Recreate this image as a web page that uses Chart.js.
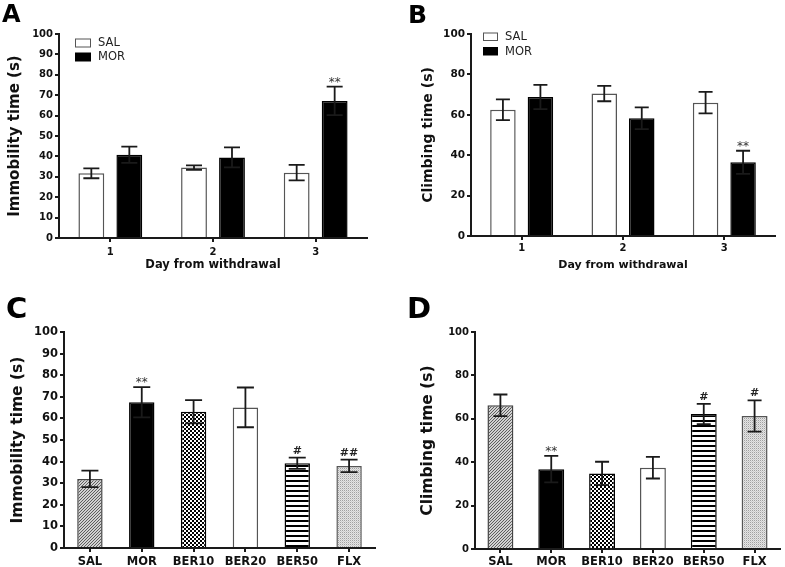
<!DOCTYPE html>
<html><head><meta charset="utf-8">
<script src="https://cdn.jsdelivr.net/npm/chart.js@4/dist/chart.umd.min.js"></script>
<style>
html,body{margin:0;padding:0;background:#fff;}
#wrap{position:relative;width:785px;height:567px;overflow:hidden;background:#fff;}
canvas{position:absolute;}
</style></head><body>
<div id="wrap">
<canvas id="cA" width="390" height="280" style="left:0px;top:0px;width:390px;height:280px"></canvas>
<canvas id="cB" width="395" height="280" style="left:390px;top:0px;width:395px;height:280px"></canvas>
<canvas id="cC" width="390" height="287" style="left:0px;top:280px;width:390px;height:287px"></canvas>
<canvas id="cD" width="395" height="287" style="left:390px;top:280px;width:395px;height:287px"></canvas>
</div>
<script>
// ---------- data ----------
const days = ['1', '2', '3'];
const seriesNames = ['SAL', 'MOR'];
const immSAL = [31.7, 34.5, 32.0];
const immSALerr = [2.4, 1.1, 3.8];
const immMOR = [40.8, 39.5, 67.2];
const immMORerr = [4.0, 4.9, 7.0];
const immMORsig = ['', '', '**'];
const climbSAL = [62.5, 70.5, 66.0];
const climbSALerr = [5.1, 3.8, 5.3];
const climbMOR = [68.8, 58.3, 36.5];
const climbMORerr = [6.0, 5.4, 5.7];
const climbMORsig = ['', '', '**'];
const treatments = ['SAL', 'MOR', 'BER10', 'BER20', 'BER50', 'FLX'];
const immTreat = [32.0, 67.5, 63.1, 65.1, 39.2, 38.0];
const immTreatErr = [3.8, 7.0, 5.4, 9.2, 2.6, 2.9];
const immTreatSig = ['', '**', '', '', '#', '##'];
const climbTreat = [66.2, 36.8, 34.8, 37.5, 62.2, 61.3];
const climbTreatErr = [5.0, 6.1, 5.4, 5.0, 4.7, 7.2];
const climbTreatSig = ['', '**', '', '', '#', '#'];
const immStep = 10;
const climbStep = 20;

const FF = "'DejaVu Sans', Verdana, sans-serif";
const AX = '#1a1a1a';

// ---------- patterns ----------
function tile(w, h, draw) {
  const c = document.createElement('canvas'); c.width = w; c.height = h;
  const x = c.getContext('2d'); draw(x); return c;
}
function patternsFor(canvasId) {
  const ctx = document.getElementById(canvasId).getContext('2d');
  const hatch = tile(3, 3, x => { x.fillStyle = '#d2d2d2'; x.fillRect(0,0,3,3); x.fillStyle = '#5e5e5e'; for (let i=0;i<3;i++) x.fillRect(i,2-i,1,1); });
  const check = tile(4, 4, x => { x.fillStyle = '#fff'; x.fillRect(0,0,4,4); x.fillStyle = '#000'; x.fillRect(0,0,2,2); x.fillRect(2,2,2,2); });
  const stripe = tile(4, 5, x => { x.fillStyle = '#fff'; x.fillRect(0,0,4,5); x.fillStyle = '#000'; x.fillRect(0,0,4,2); });
  const dots = tile(2, 2, x => { x.fillStyle = '#e4e4e4'; x.fillRect(0,0,2,2); x.fillStyle = '#a0a0a0'; x.fillRect(0,0,1,1); x.fillStyle = '#cccccc'; x.fillRect(1,1,1,1); });
  return [ctx.createPattern(hatch,'repeat'), '#000000', ctx.createPattern(check,'repeat'), '#ffffff', ctx.createPattern(stripe,'repeat'), ctx.createPattern(dots,'repeat')];
}
const treatBorders = ['#444', '#000', '#000', '#555', '#000', '#555'];

// ---------- decoration plugin ----------
function deco(cfg) {
  return {
    id: 'deco',
    afterDatasetsDraw(chart) {
      const ctx = chart.ctx, y = chart.scales.y;
      chart.data.datasets.forEach((ds, di) => {
        const meta = chart.getDatasetMeta(di);
        meta.data.forEach((bar, i) => {
          const v = ds.data[i], e = cfg.errs[di][i];
          const yt = y.getPixelForValue(v + e), yb = y.getPixelForValue(v - e);
          const c = cfg.cap / 2;
          ctx.save();
          ctx.strokeStyle = '#1a1a1a'; ctx.lineWidth = 1.8;
          ctx.beginPath();
          ctx.moveTo(bar.x, yt); ctx.lineTo(bar.x, yb);
          ctx.moveTo(bar.x - c, yt); ctx.lineTo(bar.x + c, yt);
          ctx.moveTo(bar.x - c, yb); ctx.lineTo(bar.x + c, yb);
          ctx.stroke();
          const s = cfg.sigs[di] ? cfg.sigs[di][i] : '';
          if (s) {
            ctx.textAlign = 'center'; ctx.textBaseline = 'alphabetic';
            if (s[0] === '*') { ctx.font = '12px ' + FF; ctx.fillStyle = '#333'; ctx.fillText(s, bar.x, yt - 1); }
            else { ctx.font = 'bold 11px ' + FF; ctx.fillStyle = '#222'; ctx.fillText(s, bar.x, yt - 4); }
          }
          ctx.restore();
        });
      });
    },
    afterDraw(chart) {
      const ctx = chart.ctx;
      ctx.save();
      ctx.fillStyle = '#000'; ctx.textAlign = 'left'; ctx.textBaseline = 'alphabetic';
      ctx.font = 'bold ' + cfg.letterSize + 'px ' + FF;
      ctx.fillText(cfg.letter, cfg.letterX, cfg.letterY);
      if (cfg.legend) {
        const L = cfg.legend;
        chart.data.datasets.forEach((ds, di) => {
          const by = L.ys[di];
          if (ds.backgroundColor === '#ffffff') {
            ctx.fillStyle = '#fff'; ctx.fillRect(L.x, by, L.w, L.h);
            ctx.strokeStyle = '#555'; ctx.lineWidth = 1;
            ctx.strokeRect(L.x + 0.5, by + 0.5, L.w - 1, L.h - 1);
          } else {
            ctx.fillStyle = '#000'; ctx.fillRect(L.x, by, L.w, L.h);
          }
          ctx.fillStyle = '#222'; ctx.font = '11.5px ' + FF; ctx.textBaseline = 'middle';
          ctx.fillText(ds.label, L.tx, by + L.h / 2 + 0.5);
        });
      }
      ctx.restore();
    }
  };
}

function opts(o) {
  return {
    responsive: false, animation: false, devicePixelRatio: 1,
    layout: { padding: { left: 0, top: o.top, right: o.right, bottom: 0 } },
    plugins: { legend: { display: false }, tooltip: { enabled: false } },
    scales: {
      x: {
        grid: { display: true, drawOnChartArea: false, offset: false, tickLength: 4, color: AX, lineWidth: 2 },
        border: { display: true, color: AX, width: 2 },
        ticks: { color: '#111', font: { family: FF, size: o.xts, weight: 'bold' }, padding: o.xtp, maxRotation: 0, autoSkip: false },
        title: o.xtitle ? { display: true, text: o.xtitle, color: '#111', font: { family: FF, size: o.xtitleSize, weight: 'bold', lineHeight: 1 }, padding: { top: 0, bottom: o.xtitlePad } } : { display: false },
        afterFit(s) { s.height = o.xh; }
      },
      y: {
        min: 0, max: 100,
        ticks: { stepSize: o.step, color: '#111', font: { family: FF, size: o.yts, weight: 'bold' }, padding: 2 },
        grid: { display: true, drawOnChartArea: false, tickLength: 4, color: AX, lineWidth: 2 },
        border: { display: true, color: AX, width: 2 },
        title: { display: true, text: o.ytitle, color: '#111', font: { family: FF, size: o.ytitleSize, weight: 'bold', lineHeight: 1 }, padding: { top: o.ytitlePad, bottom: 0 } },
        afterFit(s) { s.width = o.yw; }
      }
    }
  };
}

function groupedDatasets(salVals, morVals) {
  return [
    { label: seriesNames[0], data: salVals, backgroundColor: '#ffffff', borderColor: '#555', borderWidth: 1.5, categoryPercentage: 0.74, barPercentage: 0.68 },
    { label: seriesNames[1], data: morVals, backgroundColor: '#000000', borderColor: '#000', borderWidth: 1.5, categoryPercentage: 0.74, barPercentage: 0.68 }
  ];
}

// ---------- A ----------
new Chart(document.getElementById('cA'), {
  type: 'bar',
  data: { labels: days, datasets: groupedDatasets(immSAL, immMOR) },
  options: opts({ top: 34, right: 23, xh: 42, yw: 59, step: immStep, xts: 10, xtp: 4, yts: 10,
    xtitle: 'Day from withdrawal', xtitleSize: 11.5, xtitlePad: 9,
    ytitle: 'Immobility time (s)', ytitleSize: 15, ytitlePad: 7.5 }),
  plugins: [deco({ errs: [immSALerr, immMORerr], sigs: [null, immMORsig], cap: 16,
    letter: 'A', letterSize: 24, letterX: 2, letterY: 22,
    legend: { x: 75, ys: [38.5, 52.5], w: 16, h: 9, tx: 98 } })]
});

// ---------- B ----------
new Chart(document.getElementById('cB'), {
  type: 'bar',
  data: { labels: days, datasets: groupedDatasets(climbSAL, climbMOR) },
  options: opts({ top: 34, right: 10, xh: 44, yw: 81, step: climbStep, xts: 10, xtp: 2, yts: 10.5,
    xtitle: 'Day from withdrawal', xtitleSize: 11, xtitlePad: 9,
    ytitle: 'Climbing time (s)', ytitleSize: 14, ytitlePad: 31 }),
  plugins: [deco({ errs: [climbSALerr, climbMORerr], sigs: [null, climbMORsig], cap: 14,
    letter: 'B', letterSize: 25, letterX: 18, letterY: 23,
    legend: { x: 93, ys: [32.5, 47], w: 15, h: 8.5, tx: 115 } })]
});

// ---------- C ----------
new Chart(document.getElementById('cC'), {
  type: 'bar',
  data: { labels: treatments, datasets: [{ label: 'Immobility', data: immTreat, backgroundColor: patternsFor('cC'), borderColor: treatBorders, borderWidth: 1.5, categoryPercentage: 1, barPercentage: 0.49 }] },
  options: opts({ top: 52, right: 15, xh: 19, yw: 64, step: immStep, xts: 11.5, xtp: 3, yts: 11.5,
    xtitle: null, ytitle: 'Immobility time (s)', ytitleSize: 15.5, ytitlePad: 10 }),
  plugins: [deco({ errs: [immTreatErr], sigs: [immTreatSig], cap: 17,
    letter: 'C', letterSize: 29, letterX: 6, letterY: 38 })]
});

// ---------- D ----------
new Chart(document.getElementById('cD'), {
  type: 'bar',
  data: { labels: treatments, datasets: [{ label: 'Climbing', data: climbTreat, backgroundColor: patternsFor('cD'), borderColor: treatBorders, borderWidth: 1.5, categoryPercentage: 1, barPercentage: 0.51 }] },
  options: opts({ top: 52, right: 5, xh: 18, yw: 85, step: climbStep, xts: 11.5, xtp: 2.5, yts: 10,
    xtitle: null, ytitle: 'Climbing time (s)', ytitleSize: 15.5, ytitlePad: 30 }),
  plugins: [deco({ errs: [climbTreatErr], sigs: [climbTreatSig], cap: 14,
    letter: 'D', letterSize: 29, letterX: 17, letterY: 38 })]
});
</script>
</body></html>
